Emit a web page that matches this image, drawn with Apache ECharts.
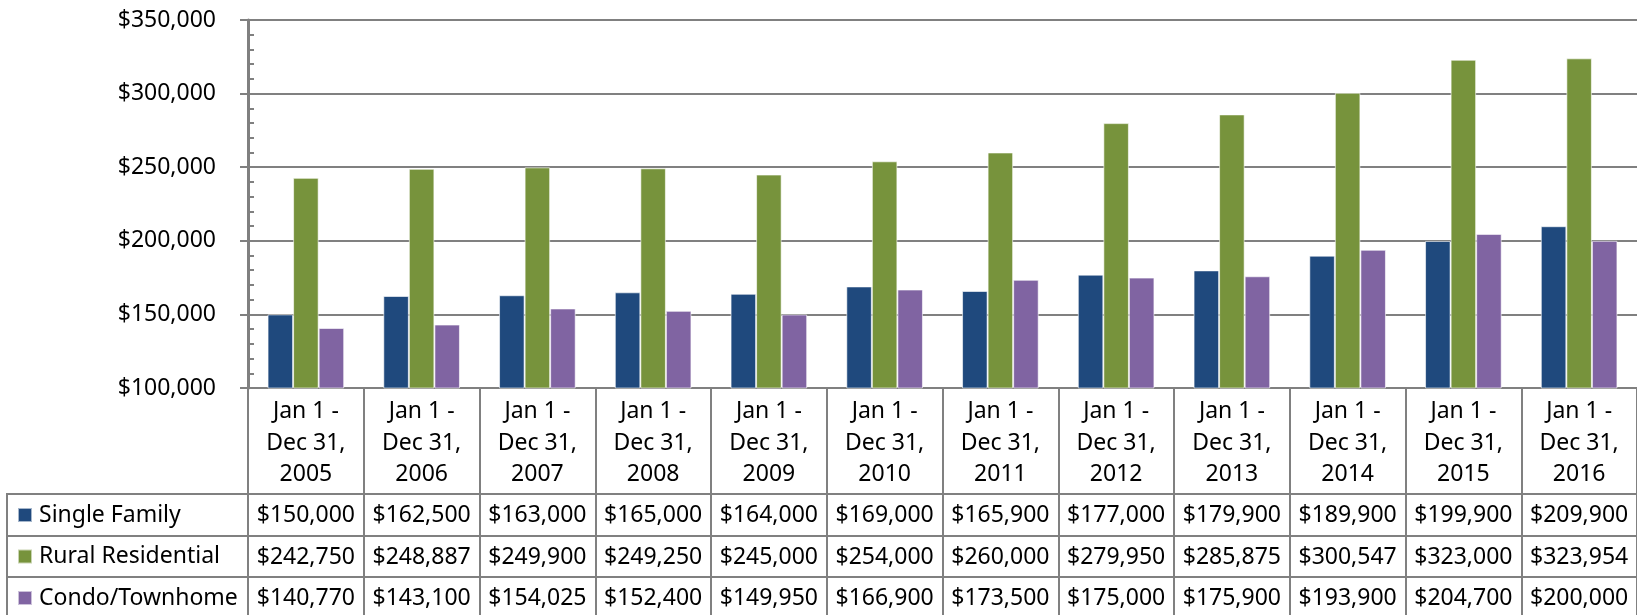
<!DOCTYPE html>
<html>
<head>
<meta charset="utf-8">
<title>Median Sale Price</title>
<script src="https://cdn.jsdelivr.net/npm/echarts@6/dist/echarts.min.js"></script>
<style>
  html, body { margin: 0; padding: 0; background: #fff; }
  #main { width: 1637px; height: 615px; }
</style>
</head>
<body>
<div id="main"></div>
<script>
// 数据
const categories = ['2005', '2006', '2007', '2008', '2009', '2010', '2011', '2012', '2013', '2014', '2015', '2016']
const seriesNames = ['Single Family', 'Rural Residential', 'Condo/Townhome']
const singleFamily = [150000, 162500, 163000, 165000, 164000, 169000, 165900, 177000, 179900, 189900, 199900, 209900]
const ruralResidential = [242750, 248887, 249900, 249250, 245000, 254000, 260000, 279950, 285875, 300547, 323000, 323954]
const condoTownhome = [140770, 143100, 154025, 152400, 149950, 166900, 173500, 175000, 175900, 193900, 204700, 200000]
const yTicks = [100000, 150000, 200000, 250000, 300000, 350000]

const colors = ['#1F497D', '#77933C', '#8064A2']
const gray = '#808080'
const font = 'Noto Sans'
const rows = [singleFamily, ruralResidential, condoTownhome]

const money = v => '$' + Number(v).toLocaleString('en-US')

const chart = echarts.init(document.getElementById('main'))

// 数据表的行：用额外的类目轴来画
const tableAxes = rows.map((row, i) => ({
  type: 'category',
  gridIndex: 0,
  position: 'bottom',
  offset: [106, 148, 189][i],
  data: categories,
  axisLine: { show: true, lineStyle: { color: gray, width: 2 } },
  axisTick: { show: false },
  axisLabel: {
    interval: 0,
    margin: 9,
    color: '#000',
    fontFamily: font,
    fontSize: 23,
    lineHeight: 24,
    verticalAlign: 'top',
    formatter: (val, idx) => money(row[idx])
  }
}))

const option = {
  backgroundColor: '#fff',
  animation: false,
  grid: { left: 248, top: 20, width: 1394, height: 368 },
  legend: {
    orient: 'vertical',
    left: 17,
    top: 503,
    height: 150,
    padding: 0,
    itemWidth: 14,
    itemHeight: 14,
    itemGap: 17.5,
    icon: 'rect',
    selectedMode: false,
    data: seriesNames,
    textStyle: { color: '#000', fontFamily: font, fontSize: 23, lineHeight: 24, padding: [0, 0, 0, 2] }
  },
  xAxis: [
    {
      type: 'category',
      data: categories,
      axisLine: { show: true, lineStyle: { color: gray, width: 2 } },
      axisTick: { show: true, interval: 0, length: 232, lineStyle: { color: gray, width: 2 } },
      axisLabel: {
        interval: 0,
        margin: 8,
        color: '#000',
        fontFamily: font,
        fontSize: 23,
        lineHeight: 31.5,
        verticalAlign: 'top',
        formatter: v => 'Jan 1 -\nDec 31,\n' + v
      }
    },
    ...tableAxes
  ],
  yAxis: [
    {
      type: 'value',
      min: yTicks[0],
      max: yTicks[yTicks.length - 1],
      interval: 50000,
      axisLine: { show: true, lineStyle: { color: gray, width: 3 } },
      axisTick: { show: true, length: 8, lineStyle: { color: gray, width: 2 } },
      splitLine: { show: true, lineStyle: { color: gray, width: 2 } },
      axisLabel: { margin: 32, color: '#000', fontFamily: font, fontSize: 23, formatter: money }
    },
    {
      // 次刻度，朝内
      type: 'value',
      position: 'left',
      min: yTicks[0],
      max: yTicks[yTicks.length - 1],
      interval: 10000,
      axisLine: { show: false },
      axisTick: { show: true, inside: true, length: 6, lineStyle: { color: gray, width: 2 } },
      splitLine: { show: false },
      axisLabel: { show: false }
    }
  ],
  series: rows.map((row, i) => ({
    name: seriesNames[i],
    type: 'bar',
    xAxisIndex: 0,
    yAxisIndex: 0,
    barGap: '0%',
    barCategoryGap: '33.8%',
    itemStyle: { color: colors[i], borderColor: 'rgba(255,255,255,0.6)', borderWidth: 1 },
    data: row
  })),
  // 图例列的表格边框
  graphic: [
    { type: 'line', shape: { x1: 7, y1: 494, x2: 248, y2: 494 }, style: { stroke: gray, lineWidth: 2 } },
    { type: 'line', shape: { x1: 7, y1: 536, x2: 248, y2: 536 }, style: { stroke: gray, lineWidth: 2 } },
    { type: 'line', shape: { x1: 7, y1: 577, x2: 248, y2: 577 }, style: { stroke: gray, lineWidth: 2 } },
    { type: 'line', shape: { x1: 7, y1: 493, x2: 7, y2: 615 }, style: { stroke: gray, lineWidth: 2 } }
  ]
}

chart.setOption(option)
</script>
</body>
</html>
